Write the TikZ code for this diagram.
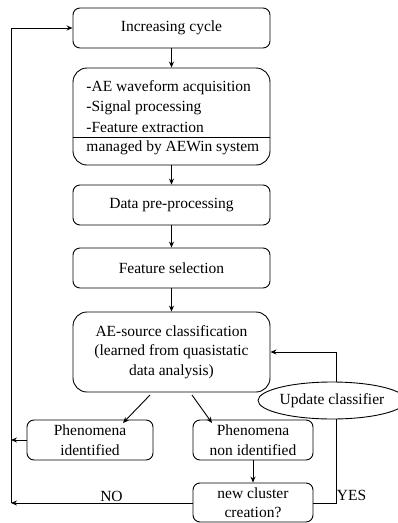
\documentclass[tikz,border=0pt]{standalone}
\usepackage{fontspec}
\setmainfont{Liberation Serif}
\usetikzlibrary{shapes.geometric,arrows.meta}
\begin{document}
\begin{tikzpicture}[x=1pt,y=-1pt,
  font=\fontsize{15.5}{19.5}\selectfont,
  every path/.style={line width=0.9pt},
  box/.style={draw, rounded corners=7pt, minimum width=197pt, minimum height=40pt, inner sep=0pt, align=center},
  arr/.style={-{Stealth[length=6pt,width=5pt]}},
  lbl/.style={inner sep=0pt, anchor=base}]
\useasboundingbox (0,0) rectangle (397,523);

% main column
\node[box] (inc) at (171.5,28) {Increasing cycle};
\node[box, rounded corners=14pt, minimum height=97pt] (acq) at (171.5,116.5) {};
\node[inner sep=0pt, anchor=west] (t1) at (86,88) {-AE waveform acquisition};
\node[inner sep=0pt, anchor=west] (t2) at (86,108) {-Signal processing};
\node[inner sep=0pt, anchor=west] (t3) at (86,127) {-Feature extraction};
\node[inner sep=0pt, anchor=west] (t4) at (86,148) {managed by AEWin system};
\coordinate (sep) at (0,137);
\draw (acq.west |- sep) -- (acq.east |- sep);

\node[box] (pre) at (171.5,205) {Data pre-processing};
\node[box] (fs) at (171.5,268) {Feature selection};
\node[box, rounded corners=14pt, minimum height=80pt] (cls) at (171.5,352) {AE-source classification\\(learned from quasistatic\\data analysis)};

\node[box, minimum width=126pt] (pid) at (90,440) {Phenomena\\identified};
\node[box, minimum width=120pt] (pnid) at (253,440) {Phenomena\\non identified};
\node[box, minimum width=120pt, minimum height=39pt] (ncc) at (253,502.5) {new cluster\\creation?};

\node[draw, ellipse, minimum width=127pt, minimum height=37pt, inner sep=0pt] (upd) at (332,400.5) {Update classifier};

% vertical arrows
\draw[arr] (inc) -- (acq);
\draw[arr] (acq) -- (pre);
\draw[arr] (pre) -- (fs);
\draw[arr] (fs) -- (cls);
\draw[arr] (pnid) -- (ncc);

% diagonal arrows
\coordinate (d1s) at (150,395);
\coordinate (d1e) at (123,423);
\coordinate (d2s) at (192,395);
\coordinate (d2e) at (212,423);
\draw[arr] (d1s) -- (d1e);
\draw[arr] (d2s) -- (d2e);

% left feedback loop
\coordinate (lb) at (11,503);
\coordinate (lt) at (11,28);
\draw[arr] (ncc.west |- lb) -- (lb);
\draw[arr] (lb) -- (lt) -- (inc.west);
\draw[arr] (pid.west) -- (pid.west -| lb);

% update classifier loop
\coordinate (ut) at (336,352);
\coordinate (ub) at (336,503);
\draw[arr] (upd.north -| ut) -- (ut) -- (ut -| cls.east);
\draw (ncc.east |- ub) -- (ub) -- (upd.south -| ub);

% labels
\node[lbl] (no) at (111.5,501) {NO};
\node[lbl] (yes) at (351.5,500) {YES};
\end{tikzpicture}
\end{document}
